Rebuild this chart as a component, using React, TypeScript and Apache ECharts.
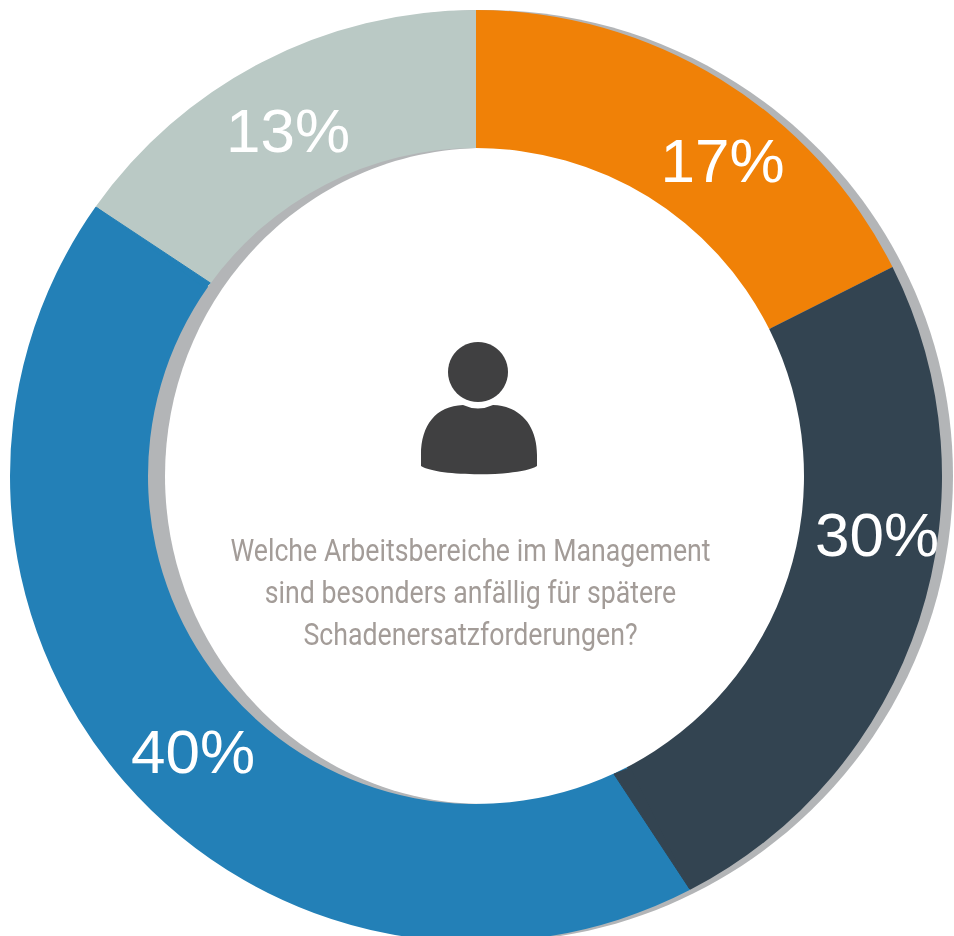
import React, { useEffect, useRef } from "react";
import * as echarts from "echarts";

const categories = ["A", "B", "C", "D"];
const values = [17.6, 24.8, 42.4, 15.2];
const labels = ["17%", "30%", "40%", "13%"];
const colors = ["#F08107", "#334451", "#2380B7", "#BAC9C5"];
// Where a slice boundary meets the inner edge, in percent clockwise from the top.
// The two boundaries listed here lean away from the radial line in the picture.
const seamSlices = [1, 2];
const seamInnerPercent = [43.1, 85.0];
const question = "Welche Arbeitsbereiche im Management\nsind besonders anfällig für spätere\nSchadenersatzforderungen?";

const bodyPath = "M463 405Q478 412 493 405C520 406 537 425 537 455V466C520 477 438 477 421 466V455C421 425 436 406 463 405Z";
echarts.graphic.registerShape("personBody", echarts.graphic.extendPath(bodyPath, {}) as any);

const labelFont = '62px "Liberation Sans"';
const CX = 476, CY = 476, R_IN = 328, R_OUT = 466;

const polar = (percent: number, r: number) => {
  const a = (percent / 100) * Math.PI * 2;
  return [CX + r * Math.sin(a), CY - r * Math.cos(a)];
};
const cumulative = (index: number) => values.slice(0, index + 1).reduce((s, v) => s + v, 0);

export default function App() {
  const ref = useRef<HTMLDivElement>(null);
  useEffect(() => {
    const chart = echarts.init(ref.current!, undefined, { renderer: "svg" });
    chart.setOption({
      animation: false,
      series: [
        {
          type: "pie", silent: true, center: [CX, CY], radius: [R_IN, R_OUT], startAngle: 90, z: 3,
          label: { show: false },
          data: categories.map((name, i) => ({ name, value: values[i], itemStyle: { color: colors[i] } })),
        },
        {
          type: "custom", silent: true, z: 4, coordinateSystem: "none",
          data: seamSlices.map((s, i) => [s, seamInnerPercent[i]]),
          renderItem: (_: any, api: any) => {
            const slice = api.value(0);
            const outer = cumulative(slice);
            const inner = api.value(1);
            return {
              type: "polygon",
              shape: { points: [polar(outer, R_OUT - 1), polar(outer - 0.15, R_IN + 2), polar(inner, R_IN + 0.5)] },
              style: { fill: colors[slice], stroke: colors[slice], lineWidth: 1 },
            };
          },
        },
      ],
      graphic: [
        { type: "ellipse", z: 1, shape: { cx: 485, cy: 476, rx: 468, ry: 466 }, style: { fill: "#B3B5B7" } },
        { type: "ellipse", z: 2, shape: { cx: 485, cy: 476, rx: 320, ry: 328 }, style: { fill: "#FFFFFF" } },
        { type: "circle", z: 5, shape: { cx: 478, cy: 372, r: 30 }, style: { fill: "#404041" } },
        { type: "personBody", z: 5, x: 0, y: 0, style: { fill: "#404041" } },
        { type: "text", z: 5, x: 470.5, y: 592, scaleX: 0.835, style: { text: question, fill: "#A39C98", font: '32px Roboto', align: "center", verticalAlign: "middle", lineHeight: 42 } },
        { type: "text", z: 5, x: 722.5, y: 160, style: { text: labels[0], fill: "#fff", font: labelFont, align: "center", verticalAlign: "middle" } },
        { type: "text", z: 5, x: 877, y: 534, style: { text: labels[1], fill: "#fff", font: labelFont, align: "center", verticalAlign: "middle" } },
        { type: "text", z: 5, x: 193, y: 751, style: { text: labels[2], fill: "#fff", font: labelFont, align: "center", verticalAlign: "middle" } },
        { type: "text", z: 5, x: 288, y: 130, style: { text: labels[3], fill: "#fff", font: labelFont, align: "center", verticalAlign: "middle" } },
      ],
    });
    return () => chart.dispose();
  }, []);
  return <div ref={ref} style={{ position: "fixed", left: 0, top: 0, width: 954, height: 936 }} />;
}
